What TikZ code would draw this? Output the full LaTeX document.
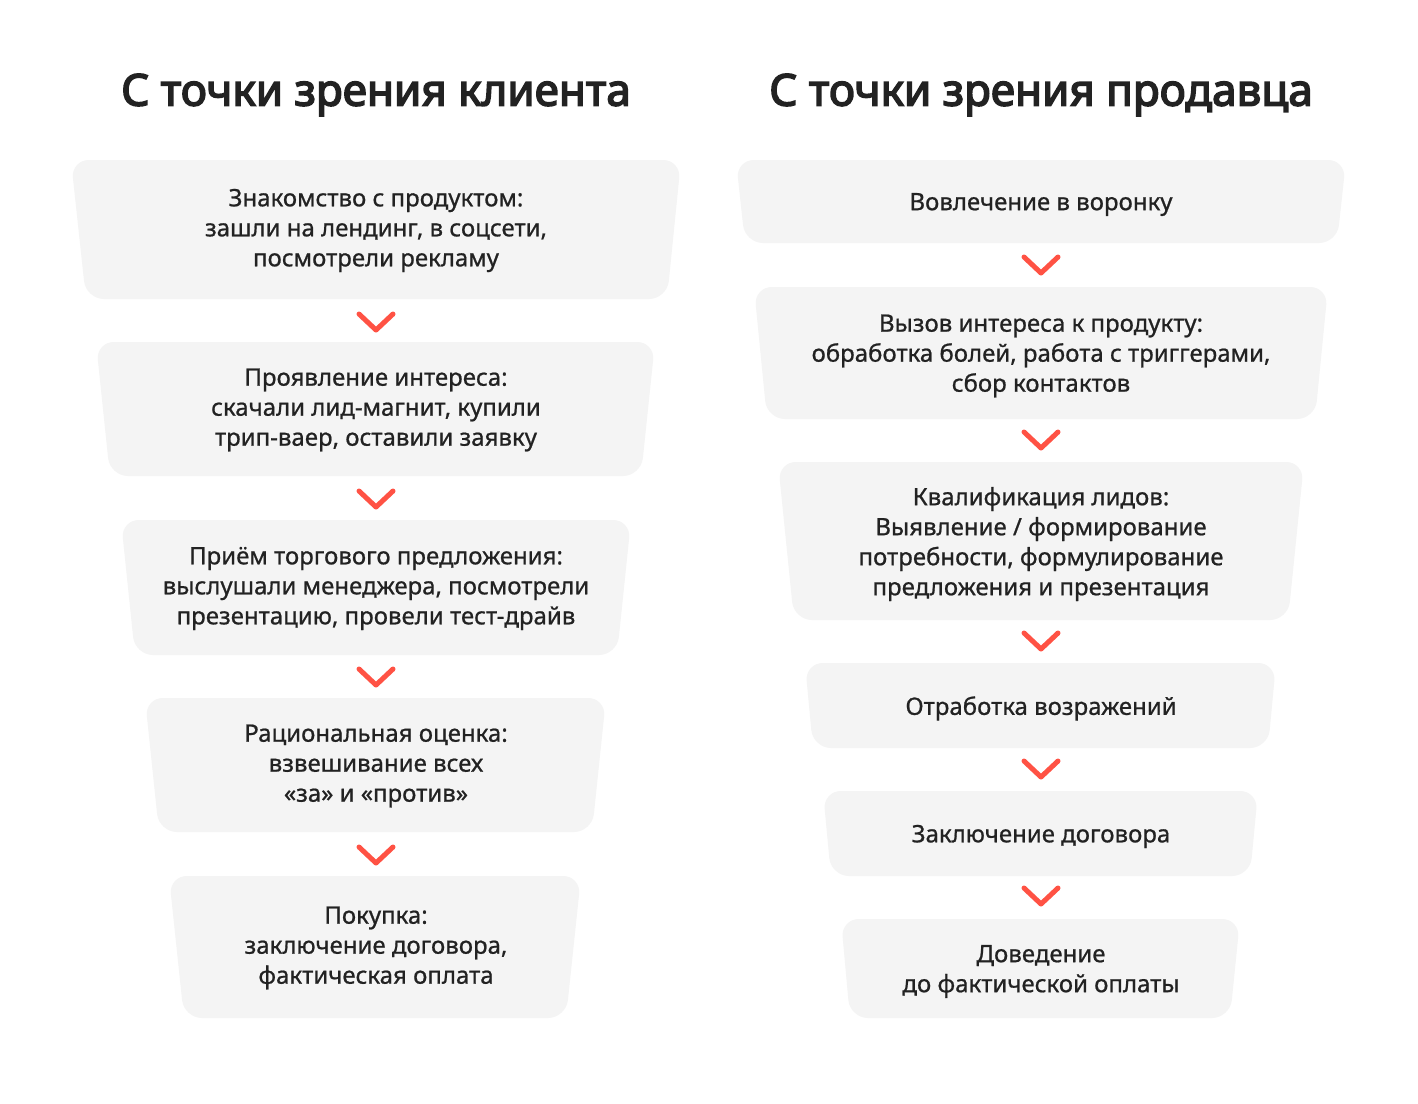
\documentclass[tikz,border=0pt]{standalone}
\usepackage{fontspec}
\setmainfont{Noto Sans}[AutoFakeBold=3.5]
\newfontfamily\bodyfont{Noto Sans}[FakeBold=0.8]
\definecolor{boxfill}{HTML}{F4F4F4}
\definecolor{txt}{HTML}{222222}
\definecolor{chev}{HTML}{FF5244}
\tikzset{
  stagebox/.style={fill=boxfill, rounded corners=18pt},
  stagetext/.style={align=center, text=txt, font=\bodyfont\fontsize{24}{30}\selectfont, inner sep=0pt},
  titletext/.style={text=txt, font=\fontsize{44}{50}\selectfont\bfseries, inner sep=0pt},
  chevron/.style={draw=chev, line width=5pt, line cap=round, line join=round},
}
\def\tshift{1}
\newcommand{\stagebox}[9]{%
  % #1 name, #2 top y, #3 bottom y, #4 top-left x, #5 bottom-left x, #6 top-right x, #7 bottom-right x, #8 text, #9 center x
  \path[stagebox] (#4,#2) -- (#6,#2) -- (#7,#3) -- (#5,#3) -- cycle;
  \node[stagetext] (#1) at (#9,{(#2+#3)/2+\tshift}) {#8};
}
\newcommand{\chevronat}[2]{%
  \draw[chevron] (#1-17,#2) -- (#1,#2+16) -- (#1+17,#2);
}
\begin{document}
\begin{tikzpicture}[x=1pt,y=-1pt]
\useasboundingbox[fill=white] (0,0) rectangle (1418,1103);

\node[titletext] (t1) at (376,95) {С точки зрения клиента};
\node[titletext] (t2) at (1041,95) {С точки зрения продавца};

% left column
\stagebox{l1}{160}{299}{71}{86}{681}{667}{Знакомство с продуктом:\\зашли на лендинг, в соцсети,\\посмотрели рекламу}{376}
\stagebox{l2}{342}{476}{96}{110}{655}{641}{Проявление интереса:\\скачали лид-магнит, купили\\трип-ваер, оставили заявку}{376}
\stagebox{l3}{520}{655}{121}{135}{631}{617}{Приём торгового предложения:\\выслушали менеджера, посмотрели\\презентацию, провели тест-драйв}{376}
\stagebox{l4}{698}{832}{145}{159}{606}{592}{Рациональная оценка:\\взвешивание всех\\«за» и «против»}{376}
\stagebox{l5}{876}{1018}{169}{184}{581}{566}{Покупка:\\заключение договора,\\фактическая оплата}{376}

\chevronat{376}{314}
\chevronat{376}{491}
\chevronat{376}{669}
\chevronat{376}{847}

% right column
\def\tshift{3}
\stagebox{r1}{160}{243}{736}{745}{1346}{1337}{Вовлечение в воронку}{1041}
\stagebox{r2}{287}{419}{754}{767}{1328}{1315}{Вызов интереса к продукту:\\обработка болей, работа с триггерами,\\сбор контактов}{1041}
\stagebox{r3}{462}{620}{778}{794}{1304}{1288}{Квалификация лидов:\\Выявление / формирование\\потребности, формулирование\\предложения и презентация}{1041}
\stagebox{r4}{663}{748}{805}{813}{1276}{1268}{Отработка возражений}{1041}
\stagebox{r5}{791}{876}{823}{831}{1258}{1250}{Заключение договора}{1041}
\stagebox{r6}{919}{1018}{841}{850}{1240}{1230}{Доведение\\до фактической оплаты}{1041}

\chevronat{1041}{257}
\chevronat{1041}{432}
\chevronat{1041}{633}
\chevronat{1041}{761}
\chevronat{1041}{888}
\end{tikzpicture}
\end{document}
